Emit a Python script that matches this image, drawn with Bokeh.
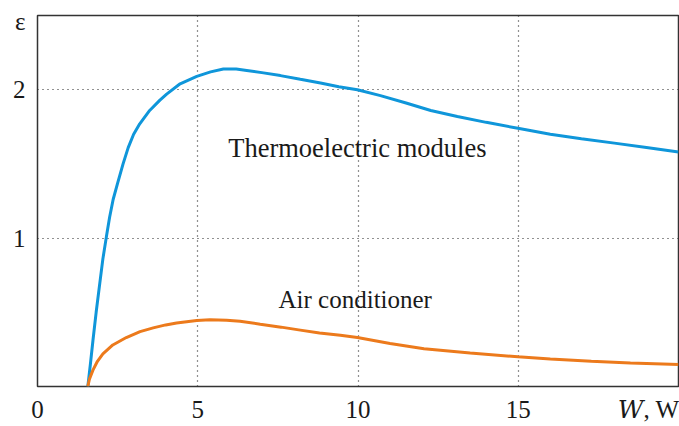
from bokeh.plotting import figure
from bokeh.models import Label, FixedTicker, Range1d
from bokeh.embed import file_html
from bokeh.resources import INLINE

# ---- data ----
w_thermo = [1.57, 1.65, 1.73, 1.83, 1.94, 2.04, 2.15, 2.25, 2.36, 2.5, 2.67, 2.83, 3.0, 3.19,
            3.5, 3.82, 4.03, 4.45, 4.97, 5.4, 5.8, 6.2, 6.53, 7.0, 7.58, 8.2, 8.83, 9.4,
            9.98, 10.7, 11.5, 12.27, 13.1, 14.0, 14.99, 16.0, 16.97, 18.0, 19.0, 20.0]
eps_thermo = [0.0, 0.15, 0.31, 0.50, 0.69, 0.86, 1.01, 1.14, 1.26, 1.37, 1.50, 1.61, 1.70, 1.77,
              1.86, 1.93, 1.97, 2.04, 2.09, 2.12, 2.14, 2.14, 2.13, 2.115, 2.095, 2.07, 2.045, 2.02,
              2.00, 1.96, 1.91, 1.86, 1.82, 1.78, 1.74, 1.70, 1.67, 1.64, 1.61, 1.58]

w_air = [1.57, 1.62, 1.73, 1.87, 2.04, 2.35, 2.77, 3.2, 3.61, 4.0, 4.34, 4.97, 5.38, 5.9,
         6.32, 6.95, 7.6, 8.2, 8.8, 9.45, 9.98, 11.0, 12.06, 13.5, 14.99, 16.0, 17.28, 18.5, 20.0]
eps_air = [0.0, 0.05, 0.11, 0.17, 0.22, 0.28, 0.33, 0.37, 0.395, 0.415, 0.428, 0.445, 0.45, 0.447,
           0.44, 0.42, 0.40, 0.38, 0.36, 0.345, 0.33, 0.29, 0.255, 0.225, 0.20, 0.185, 0.17, 0.158, 0.149]

grid_x = [5, 10, 15]
grid_y = [1, 2]
x_ticks = [0, 5, 10, 15, 19.19]
x_tick_labels = ["0", "5", "10", "15", "\U0001D44A, W"]
y_ticks = [1, 2, 2.46]
y_tick_labels = ["1", "2", "ε"]

FONT = "Liberation Serif"
TXT = "#1a1a1a"

p = figure(width=679, height=426, output_backend="svg", toolbar_location=None,
           x_range=Range1d(0, 20), y_range=Range1d(0, 2.5),
           min_border_left=37, min_border_right=1,
           min_border_top=15, min_border_bottom=40)

p.outline_line_color = "#333333"
p.outline_line_width = 1.5

for ax, ticks, labels in ((p.xaxis, x_ticks, x_tick_labels), (p.yaxis, y_ticks, y_tick_labels)):
    ax.ticker = FixedTicker(ticks=ticks)
    ax.major_label_overrides = {t: l for t, l in zip(ticks, labels)}
    ax.axis_line_color = None
    ax.major_tick_line_color = None
    ax.minor_tick_line_color = None
    ax.major_label_text_font = FONT
    ax.major_label_text_font_size = "25px"
    ax.major_label_text_color = TXT
p.xaxis.major_label_text_font = "Liberation Serif, DejaVu Serif"
p.yaxis.major_label_standoff = 6
p.xaxis.major_label_standoff = 3

for g, ticks in ((p.xgrid, grid_x), (p.ygrid, grid_y)):
    g.ticker = FixedTicker(ticks=ticks)
    g.grid_line_color = "#222222"
    g.grid_line_dash = "1 4"
    g.grid_line_width = 1.2

# curves
p.line(w_thermo, eps_thermo, line_color="#0f96da", line_width=3)
p.line(w_air, eps_air, line_color="#ec7a1c", line_width=3)

# curve names
p.add_layout(Label(x=5.95, y=1.604, text="Thermoelectric modules", text_font=FONT,
                   text_font_size="26.5px", text_color=TXT, text_align="left",
                   text_baseline="alphabetic"))
p.add_layout(Label(x=7.52, y=0.584, text="Air conditioner", text_font=FONT,
                   text_font_size="25px", text_color=TXT, text_align="left",
                   text_baseline="alphabetic"))

open("out.html", "w").write(file_html(p, INLINE))
